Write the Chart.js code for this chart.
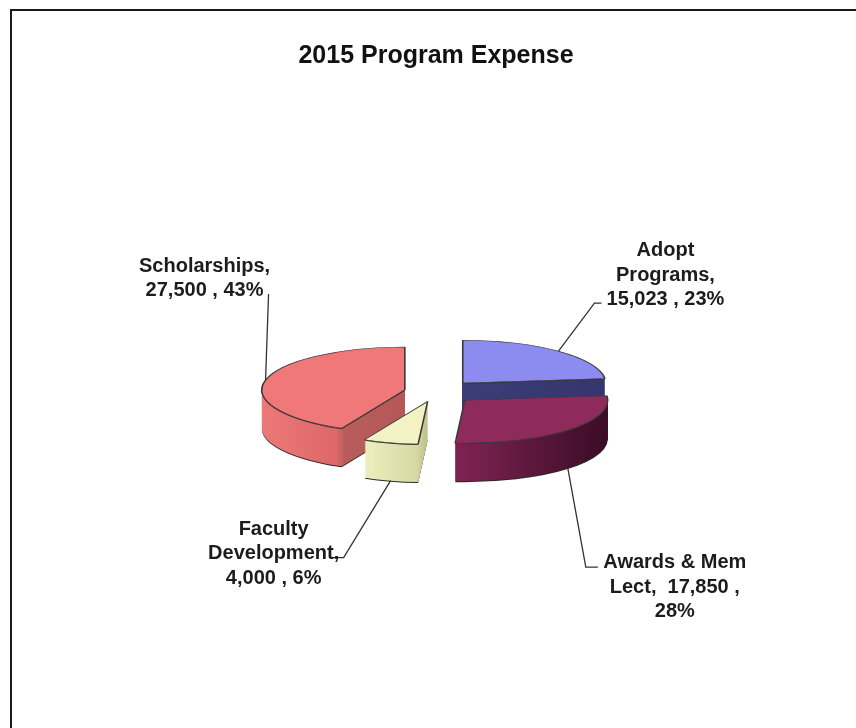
<!DOCTYPE html>
<html><head><meta charset="utf-8">
<script src="https://cdn.jsdelivr.net/npm/chart.js@4.4.1/dist/chart.umd.min.js"></script>
<style>html,body{margin:0;padding:0;background:#fff}#wrap{width:856px;height:728px;position:relative}</style>
</head><body><div id="wrap"><canvas id="c"></canvas></div>
<script>
// ---- data ----
const chartTitle = '2015 Program Expense';
const categories = ['Adopt Programs', 'Awards & Mem Lect', 'Faculty Development', 'Scholarships'];
const expense = [15023, 17850, 4000, 27500];

// ---- styles ----
const FONT = '"Liberation Sans", Arial, Helvetica, sans-serif';
const topColors = ['#8c8cf0', '#8e2a5c', '#f2f2c4', '#f07878'];
const sideStops = [
  [[0, '#42427f'], [1, '#36366e']],
  [[0, '#7c2250'], [0.5, '#7c2250'], [1, '#3a0c26']],
  [[0, '#e6e6b4'], [0.3, '#ececbc'], [0.46, '#d8d8a4'], [0.49, '#c4c492'], [1, '#c4c492']],
  [[0, '#ec7878'], [0.26, '#de6868'], [0.29, '#ba5c5c'], [1, '#a44c4c']]
];
const explode = [40, 40, 32, 32];
const labelCfg = [
  {elbow: [36, -48], tail: 7, text: [71, -28]},
  {elbow: [18, 99], tail: 12, text: [89, 20]},
  {elbow: [-47, 77], tail: -11, text: [-70, -4]},
  {elbow: [3, -86], tail: 0, text: [-64, -15.5]}
];
const TILT = 0.3, DEPTH = 38, LABEL_W = 155, LINE_H = 24.5;

function midAngle(a) { return (a.startAngle + a.endAngle) / 2; }

function drawSlice(ctx, arc, i, dz, over) {
  const el = Object.create(arc);
  el.options = Object.assign({}, arc.options, over);
  const m = midAngle(arc);
  ctx.save();
  ctx.translate(arc.x, arc.y + dz);
  ctx.scale(1, TILT);
  ctx.translate(-arc.x, -arc.y);
  ctx.translate(explode[i] * Math.cos(m), explode[i] * Math.sin(m));
  el.draw(ctx);
  ctx.restore();
}

const pie3d = {
  id: 'pie3d',
  beforeDatasetsDraw(chart) {
    const ctx = chart.ctx;
    const arcs = chart.getDatasetMeta(0).data;
    const order = arcs.map((a, i) => i).sort((i, j) =>
      explode[i] * Math.sin(midAngle(arcs[i])) - explode[j] * Math.sin(midAngle(arcs[j])));
    for (const i of order) {
      const a = arcs[i];
      const r = a.outerRadius;
      const g = ctx.createLinearGradient(a.x - r, 0, a.x + r, 0);
      sideStops[i].forEach(s => g.addColorStop(s[0], s[1]));
      drawSlice(ctx, a, i, DEPTH + 1, {backgroundColor: '#2a2a2a', borderWidth: 0});
      for (let d = DEPTH; d >= 1; d--) {
        drawSlice(ctx, a, i, d, {backgroundColor: g, borderWidth: 0});
      }
      drawSlice(ctx, a, i, 1, {backgroundColor: '#3a3a3a', borderWidth: 0});
      drawSlice(ctx, a, i, 0, {backgroundColor: topColors[i], borderColor: '#3a3a3a', borderWidth: 1.6});
    }
    return false;
  },
  afterDraw(chart) {
    const ctx = chart.ctx;
    const arcs = chart.getDatasetMeta(0).data;
    const total = expense.reduce((s, v) => s + v, 0);
    ctx.save();
    ctx.font = 'bold 20px ' + FONT;
    ctx.textAlign = 'center';
    ctx.textBaseline = 'middle';
    arcs.forEach((a, i) => {
      const m = midAngle(a);
      const R = explode[i] + a.outerRadius;
      const ax = a.x + R * Math.cos(m);
      const ay = a.y + TILT * R * Math.sin(m) + (Math.sin(m) > 0 ? DEPTH : 0);
      const cfg = labelCfg[i];
      const ex = ax + cfg.elbow[0], ey = ay + cfg.elbow[1];
      ctx.strokeStyle = '#333';
      ctx.lineWidth = 1.3;
      ctx.beginPath();
      ctx.moveTo(ax, ay);
      ctx.lineTo(ex, ey);
      if (cfg.tail) ctx.lineTo(ex + cfg.tail, ey);
      ctx.stroke();
      const pct = Math.round(expense[i] / total * 100);
      const txt = categories[i] + ',  ' + expense[i].toLocaleString('en-US') + ' , ' + pct + '%';
      const words = txt.split(' ');
      const lines = [];
      let line = '';
      for (const w of words) {
        const cand = line === '' ? w : line + ' ' + w;
        if (line !== '' && ctx.measureText(cand.trim()).width > LABEL_W) {
          lines.push(line.trim());
          line = w;
        } else line = cand;
      }
      if (line.trim() !== '') lines.push(line.trim());
      const tx = ex + cfg.text[0], ty = ey + cfg.text[1];
      ctx.fillStyle = '#1c1c1c';
      lines.forEach((l, k) => {
        ctx.fillText(l, tx, ty + (k - (lines.length - 1) / 2) * LINE_H);
      });
    });
    // frame
    ctx.fillStyle = '#1a1a1a';
    ctx.fillRect(10, 9, 846, 2);
    ctx.fillRect(10, 9, 2, 719);
    ctx.restore();
  }
};

new Chart(document.getElementById('c'), {
  type: 'pie',
  data: {
    labels: categories,
    datasets: [{
      data: expense,
      backgroundColor: topColors,
      borderColor: '#3a3a3a',
      borderWidth: 1.6,
      offset: 0
    }]
  },
  options: {
    responsive: true,
    maintainAspectRatio: false,
    animation: false,
    radius: 143,
    layout: {padding: {left: 30, right: 14, top: 0, bottom: 22}},
    plugins: {
      legend: {display: false},
      tooltip: {enabled: false},
      title: {
        display: true,
        text: chartTitle,
        color: '#111',
        font: {family: FONT, size: 25, weight: 'bold'},
        padding: {top: 41, bottom: 7}
      }
    }
  },
  plugins: [pie3d]
});
</script>
</body></html>
